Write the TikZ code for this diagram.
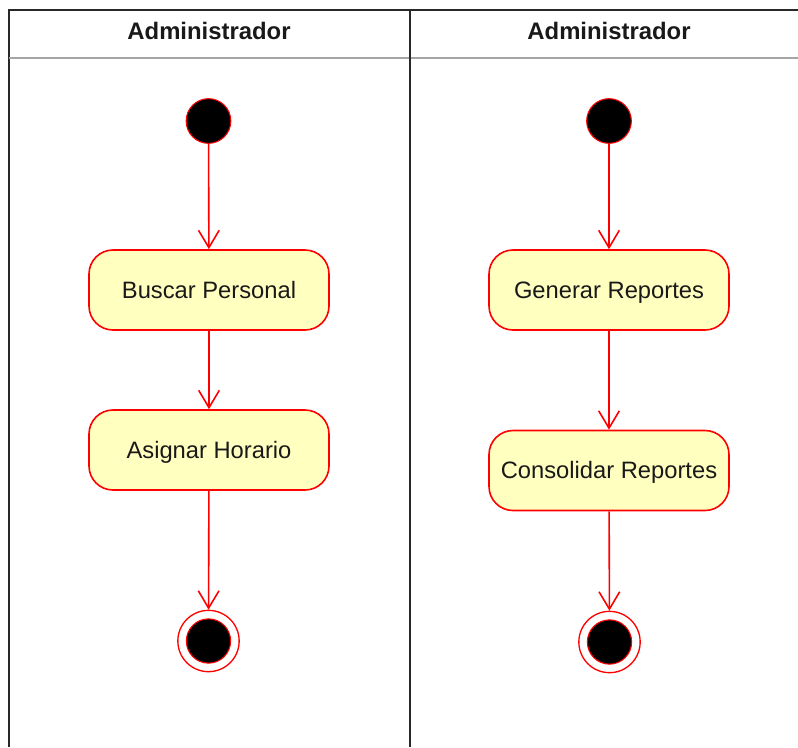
\documentclass[tikz,border=0pt]{standalone}
\usepackage{fontspec}
\setmainfont{Liberation Sans}
\usetikzlibrary{arrows.meta}
\definecolor{actfill}{RGB}{255,255,192}
\definecolor{umlred}{RGB}{255,0,0}
\definecolor{laneline}{RGB}{40,40,40}
\definecolor{sepgray}{RGB}{165,165,165}
\definecolor{txt}{RGB}{25,25,25}
\begin{document}
\begin{tikzpicture}[x=0.75pt,y=-0.75pt,
  action/.style={draw=umlred, fill=actfill, line width=1.2pt, rounded corners=18pt,
    minimum width=180pt, minimum height=60pt, inner sep=0pt,
    text height=12.7pt, text depth=0pt,
    font=\fontsize{17.8}{20}\selectfont, text=txt},
  startnode/.style={circle, draw=umlred, fill=black, line width=0.8pt,
    minimum size=33.5pt, inner sep=0pt},
  endnode/.style={circle, draw=umlred, fill=white, line width=1pt,
    minimum size=46pt, inner sep=0pt,
    path picture={\draw[umlred, fill=black, line width=0.8pt]
      (path picture bounding box.center) circle (16.6pt);}},
  lanehead/.style={font=\bfseries\fontsize{17.9}{20}\selectfont, text=txt},
  flow/.style={draw=umlred, line width=1.2pt,
    -{Straight Barb[length=13pt, width=15.5pt, line width=1.2pt]}}
]
\useasboundingbox (0,0) rectangle (798,747);

% swimlane frame
\draw[laneline, line width=1.6pt] (9,747) -- (9,10) -- (798,10);
\draw[sepgray, line width=1.5pt] (9,58) -- (798,58);
\draw[laneline, line width=1.5pt] (410,10) -- (410,747);

% lane headers
\node[lanehead] (h1) at (209,31) {Administrador};
\node[lanehead] (h2) at (609,31) {Administrador};

% left lane
\node[startnode] (s1) at (208.5,121) {};
\node[action] (a1) at (209,290) {Buscar Personal};
\node[action] (a2) at (209,450) {Asignar Horario};
\node[endnode] (e1) at (208.5,641) {};

% right lane
\node[startnode] (s2) at (609,121) {};
\node[action] (b1) at (609,290) {Generar Reportes};
\node[action] (b2) at (609,470.5) {Consolidar Reportes};
\node[endnode] (e2) at (609.5,642) {};

% transitions
\draw[flow] (s1) -- (a1);
\draw[flow] (a1) -- (a2);
\draw[flow] (a2) -- (e1);
\draw[flow] (s2) -- (b1);
\draw[flow] (b1) -- (b2);
\draw[flow] (b2) -- (e2);
\end{tikzpicture}
\end{document}
